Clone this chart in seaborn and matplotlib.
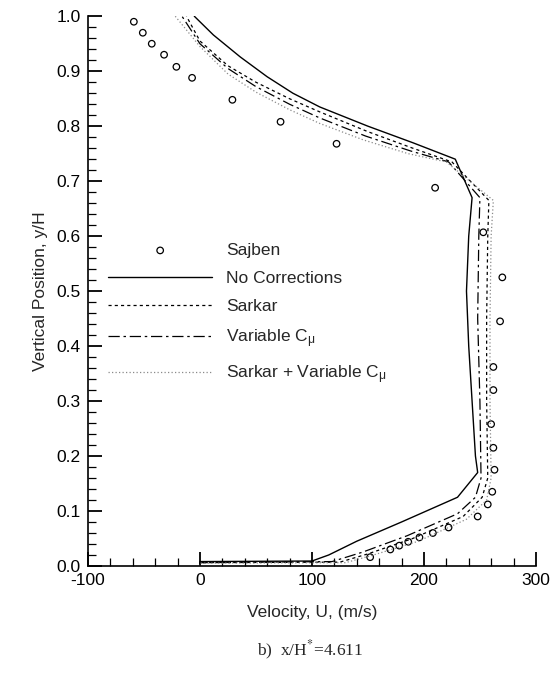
import matplotlib
matplotlib.use("Agg")
import matplotlib.pyplot as plt
import seaborn as sns
import pandas as pd
from matplotlib.ticker import MultipleLocator

# ---- data ----
sajben_u = [-59, -51, -43, -32, -21, -7, 29, 72, 122, 210, 253, 270, 268, 262, 262,
            260, 262, 263, 261, 257, 248, 222, 208, 196, 186, 178, 170, 152]
sajben_y = [0.990, 0.970, 0.950, 0.930, 0.908, 0.888, 0.848, 0.808, 0.768, 0.688, 0.607,
            0.525, 0.445, 0.362, 0.320, 0.258, 0.215, 0.175, 0.135, 0.112, 0.090, 0.070,
            0.060, 0.052, 0.044, 0.037, 0.030, 0.016]

nocorr_u = [0, 0, 100, 115, 140, 180, 230, 248, 246, 243, 240, 238, 240, 243, 228,
            190, 150, 107, 83, 60, 36, 12, -5]
nocorr_y = [0.0, 0.008, 0.009, 0.02, 0.045, 0.08, 0.125, 0.17, 0.2, 0.3, 0.4, 0.5, 0.6,
            0.67, 0.74, 0.77, 0.80, 0.835, 0.86, 0.89, 0.926, 0.966, 1.0]

sarkar_u = [0, 0, 125, 150, 190, 235, 252, 257, 256, 256, 257, 258, 225, 190, 150,
            107, 80, 50, 25, 0, -12]
sarkar_y = [0.0, 0.006, 0.007, 0.022, 0.05, 0.09, 0.125, 0.16, 0.3, 0.45, 0.6, 0.665,
            0.735, 0.76, 0.79, 0.826, 0.85, 0.88, 0.91, 0.955, 1.0]

varcmu_u = [0, 0, 118, 145, 185, 230, 246, 251, 250, 248, 249, 250, 222, 188, 148,
            107, 80, 50, 25, 0, -16]
varcmu_y = [0.0, 0.006, 0.008, 0.025, 0.055, 0.095, 0.125, 0.16, 0.3, 0.45, 0.6, 0.67,
            0.735, 0.755, 0.782, 0.815, 0.84, 0.872, 0.905, 0.95, 1.0]

both_u = [0, 0, 130, 155, 195, 238, 256, 260, 259, 259, 260, 262, 220, 186, 146,
          107, 80, 50, 25, 0, -22]
both_y = [0.0, 0.005, 0.006, 0.02, 0.045, 0.085, 0.12, 0.16, 0.3, 0.45, 0.6, 0.665,
          0.735, 0.75, 0.775, 0.805, 0.83, 0.862, 0.895, 0.945, 1.0]

labels = ["Sajben", "No Corrections", "Sarkar", "Variable C$_{\\mathrm{\\mu}}$",
          "Sarkar + Variable C$_{\\mathrm{\\mu}}$"]
x_ticks = [-100, 0, 100, 200, 300]
y_ticks = [0.0, 0.1, 0.2, 0.3, 0.4, 0.5, 0.6, 0.7, 0.8, 0.9, 1.0]

# ---- style ----
sns.set_style("ticks")
plt.rcParams["font.family"] = ["Liberation Sans", "DejaVu Sans"]
plt.rcParams["mathtext.fontset"] = "custom"
plt.rcParams["mathtext.rm"] = "Liberation Sans"
plt.rcParams["mathtext.it"] = "Liberation Sans:italic"

fig = plt.figure(figsize=(5.60, 6.77), dpi=100)
ax = fig.add_axes([0.157, 0.164, 0.800, 0.812])

lines = [
    (nocorr_u, nocorr_y, labels[1], dict(color="black", lw=1.0, linestyle="-")),
    (sarkar_u, sarkar_y, labels[2], dict(color="black", lw=0.9, dashes=(2.5, 2.5))),
    (varcmu_u, varcmu_y, labels[3], dict(color="black", lw=0.9, dashes=(9, 3, 2, 3))),
    (both_u, both_y, labels[4], dict(color="#8a8a8a", lw=0.9, dashes=(1, 1.8))),
]

sns.scatterplot(x=sajben_u, y=sajben_y, ax=ax, marker="o", s=22,
                facecolor="none", edgecolor="black", linewidth=0.9, label=labels[0])
for u, y, lab, kw in lines:
    df = pd.DataFrame({"U": u, "y": y})
    sns.lineplot(data=df, x="U", y="y", ax=ax, sort=False, estimator=None,
                 label=lab, **kw)

ax.set_xlim(-100, 300)
ax.set_ylim(0.0, 1.0)
ax.set_xticks(x_ticks)
ax.set_yticks(y_ticks)
ax.set_xticklabels([str(v) for v in x_ticks])
ax.set_yticklabels([f"{v:.1f}" for v in y_ticks])
ax.xaxis.set_minor_locator(MultipleLocator(20))
ax.yaxis.set_minor_locator(MultipleLocator(0.02))
ax.tick_params(axis="both", which="both", bottom=True, left=True, top=False,
               right=False, direction="in", colors="black")
ax.tick_params(axis="both", which="major", length=10, width=1.3,
               labelsize=12.5, pad=5)
ax.tick_params(axis="both", which="minor", length=5.5, width=0.9)
for side in ["top", "right"]:
    ax.spines[side].set_visible(False)
for side in ["left", "bottom"]:
    ax.spines[side].set_color("black")
    ax.spines[side].set_linewidth(1.2)

ax.set_xlabel("Velocity, U, (m/s)", fontsize=12.5, labelpad=12)
ax.set_ylabel("Vertical Position, y/H", fontsize=12.5, labelpad=6)

leg = ax.legend(loc="center left", bbox_to_anchor=(0.045, 0.458), frameon=False,
                fontsize=12.5, handlelength=6.0, handletextpad=0.8,
                labelspacing=0.75, borderaxespad=0.0, borderpad=0.0)

fig.text(0.553, 0.04, "b)  x/H$^{*}$=4.611", ha="center", va="center",
         fontsize=12.5, family=["Liberation Serif"], math_fontfamily="stix")

fig.savefig("out.png", dpi=100)
